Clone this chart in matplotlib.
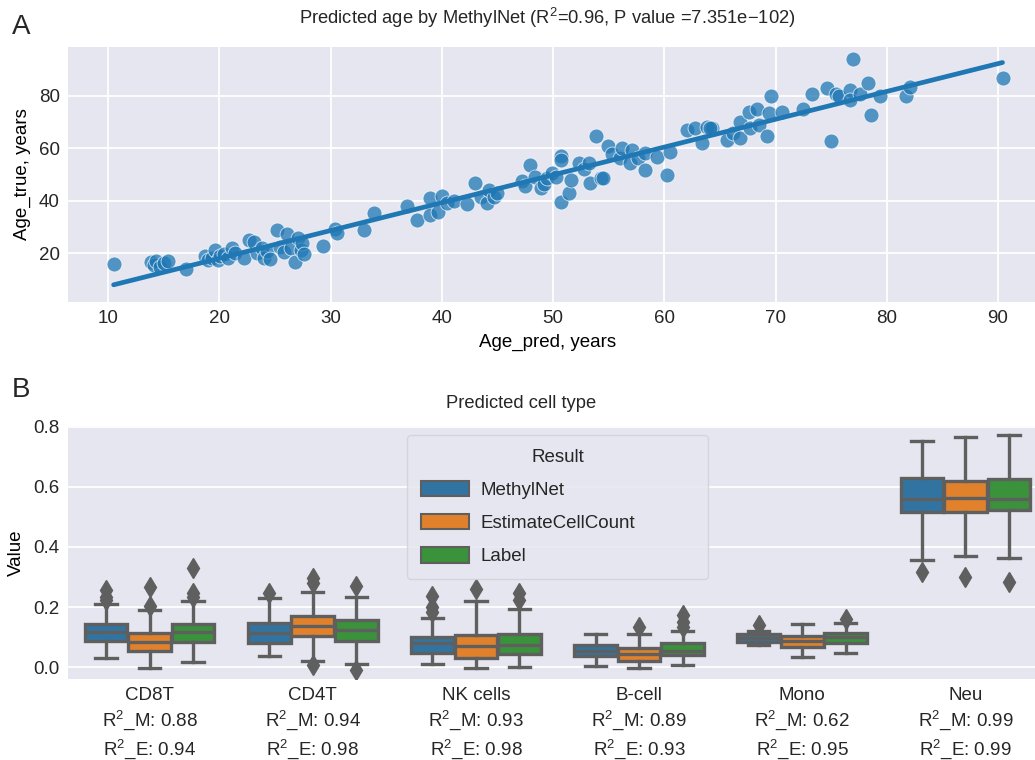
import numpy as np
import matplotlib.pyplot as plt
from matplotlib.patches import Patch

# ---- panel A data: (Age_pred, Age_true)
age_pred = [10.5, 13.9, 14.1, 14.3, 14.7, 15.0, 15.4, 17.0,
            18.7, 19.0, 19.3, 19.6, 19.9, 20.1, 20.4, 20.8, 21.1, 21.4,
            22.2, 22.7, 23.1, 23.4, 23.8, 24.0, 24.3, 24.6, 25.2, 25.5, 25.8,
            26.1, 26.4, 26.8, 27.1, 27.3, 27.4, 27.6,
            29.3, 30.4, 30.6, 33.0, 33.9,
            36.9, 37.8, 38.9, 38.9, 39.7, 40.0, 40.5, 41.1, 42.3, 43.0, 43.5,
            44.1, 44.2, 44.7, 45.0,
            47.2, 47.5, 47.9, 48.4, 48.9, 49.2, 49.5, 49.9, 50.3, 50.7, 50.7,
            50.7, 51.4, 51.6, 52.3, 52.8, 53.2, 53.3, 53.9, 54.3, 54.5, 54.9,
            55.3, 56.0, 56.2, 56.9, 57.1, 57.6, 58.3, 58.3, 59.3, 60.2, 60.5,
            62.0, 62.8, 63.4, 63.8, 64.3, 64.1, 65.6, 66.2, 66.8, 66.8, 67.6,
            67.7, 68.3, 68.5, 69.2, 69.4, 69.6, 70.6, 72.5, 73.3, 74.6, 75.0,
            75.4, 75.7, 76.7, 76.7, 77.0, 77.6, 78.3, 78.6, 79.4, 81.7, 82.1,
            90.4]
age_true = [16.0, 16.6, 15.5, 17.0, 14.9, 16.2, 17.2, 13.9,
            19.0, 17.5, 18.3, 21.2, 17.5, 19.0, 19.7, 18.1, 21.9, 20.0,
            18.1, 25.1, 24.2, 20.2, 22.0, 18.1, 21.0, 17.7, 28.9, 22.5, 20.5,
            27.3, 21.9, 16.8, 25.7, 21.3, 23.8, 19.8,
            22.9, 29.1, 27.8, 28.9, 35.2,
            38.0, 32.7, 40.9, 34.6, 35.8, 41.9, 39.0, 40.0, 38.6, 46.8, 41.5,
            39.0, 44.1, 41.5, 43.0,
            47.6, 45.6, 53.8, 49.1, 44.7, 46.5, 48.5, 50.4, 49.0, 57.0, 55.5,
            39.6, 42.8, 47.9, 54.2, 52.0, 54.2, 46.6, 64.6, 48.5, 48.5, 60.9,
            57.8, 56.1, 59.9, 54.2, 59.3, 56.1, 51.7, 58.0, 56.7, 49.8, 58.6,
            66.9, 67.5, 61.8, 67.9, 67.5, 67.5, 63.1, 65.6, 70.0, 63.7, 73.8,
            67.5, 75.1, 68.8, 64.7, 73.5, 79.8, 73.8, 74.8, 80.8, 83.0, 62.7,
            80.8, 79.9, 82.1, 78.3, 93.8, 80.8, 84.9, 72.8, 79.8, 79.8, 83.1,
            86.8]

# ---- panel B data: box summaries per cell type and method
cell_types = ['CD8T', 'CD4T', 'NK cells', 'B-cell', 'Mono', 'Neu']
r2_m = ['0.88', '0.94', '0.93', '0.89', '0.62', '0.99']
r2_e = ['0.94', '0.98', '0.98', '0.93', '0.95', '0.99']
methods = ['MethylNet', 'EstimateCellCount', 'Label']

# rows: cell type, columns: method
q1 = [[0.087, 0.055, 0.085], [0.082, 0.105, 0.087], [0.049, 0.030, 0.044],
      [0.038, 0.022, 0.041], [0.083, 0.068, 0.080], [0.515, 0.515, 0.523]]
med = [[0.116, 0.085, 0.116], [0.114, 0.137, 0.124], [0.080, 0.072, 0.074],
       [0.055, 0.044, 0.054], [0.097, 0.087, 0.100], [0.558, 0.563, 0.558]]
q3 = [[0.143, 0.113, 0.143], [0.146, 0.171, 0.157], [0.102, 0.107, 0.111],
      [0.074, 0.063, 0.080], [0.110, 0.105, 0.115], [0.630, 0.619, 0.625]]
whis_lo = [[0.032, -0.003, 0.019], [0.037, 0.021, 0.011], [0.010, -0.003, 0.002],
           [0.004, -0.003, 0.007], [0.074, 0.035, 0.049], [0.356, 0.370, 0.362]]
whis_hi = [[0.209, 0.190, 0.221], [0.229, 0.249, 0.235], [0.163, 0.220, 0.193],
           [0.110, 0.110, 0.122], [0.122, 0.143, 0.146], [0.752, 0.766, 0.772]]
outliers = [[[0.257, 0.235, 0.222], [0.266, 0.205], [0.329, 0.246, 0.235]],
            [[0.248], [0.296, 0.279, 0.008], [0.270, -0.009]],
            [[0.237, 0.201, 0.185], [0.259], [0.246, 0.224]],
            [[], [0.135], [0.174, 0.152, 0.135]],
            [[0.140], [], [0.159]],
            [[0.318], [0.301], [0.284]]]

box_colors = ['#3274a1', '#e1812c', '#3a923a']
edge_gray = '#5f5f5f'
bg = '#e5e6ef'
text_color = '#262626'
fs = 13.5

plt.rcParams['font.family'] = ['Liberation Sans', 'DejaVu Sans']
plt.rcParams['mathtext.fontset'] = 'custom'
plt.rcParams['mathtext.rm'] = 'Liberation Sans'
plt.rcParams['text.color'] = text_color

W, H = 1035, 760
fig = plt.figure(figsize=(W / 100, H / 100), dpi=100)


def frame(px_left, px_right, px_top, px_bottom):
    return [px_left / W, 1 - px_bottom / H, (px_right - px_left) / W, (px_bottom - px_top) / H]


def style_axes(ax):
    ax.set_facecolor(bg)
    for s in ax.spines.values():
        s.set_visible(False)
    ax.tick_params(length=0, labelsize=fs, colors=text_color, pad=6)
    ax.grid(color='white', linewidth=1.3)
    ax.set_axisbelow(True)


# ---------- panel A
ax1 = fig.add_axes(frame(68, 1047, 47, 302))
style_axes(ax1)
ax1.scatter(age_pred, age_true, s=115, color='#1f77b4', alpha=0.75,
            edgecolors='white', linewidths=0.6, zorder=3)
slope, icpt = np.polyfit(age_pred, age_true, 1)
xs = np.array([min(age_pred), max(age_pred)])
ax1.plot(xs, slope * xs + icpt, color='#1f77b4', linewidth=3.4,
         solid_capstyle='round', zorder=4)
ax1.set_xlim(6.4, 94.4)
ax1.set_ylim(1.5, 98.5)
ax1.set_xticks([10, 20, 30, 40, 50, 60, 70, 80, 90])
ax1.set_yticks([20, 40, 60, 80])
ax1.set_xlabel('Age_pred, years', fontsize=fs)
ax1.xaxis.set_label_coords((548 - 68) / 979, (302 - 334) / 255)
ax1.set_ylabel('Age_true, years', fontsize=fs)
ax1.yaxis.set_label_coords((31 - 68) / 979, 0.5)
fig.text(547 / W, 1 - 18 / H,
         'Predicted age by MethylNet (R$^2$=0.96, P value =7.351e\u2212102)',
         ha='center', va='center', fontsize=13.2)
fig.text(12 / W, 1 - 27 / H, 'A', fontsize=20, va='center', ha='left')

# ---------- panel B
ax2 = fig.add_axes(frame(68, 1047, 426, 679))
style_axes(ax2)
ax2.grid(axis='x', visible=False)
bw = 0.8 / 3
for i in range(len(cell_types)):
    for j in range(len(methods)):
        stats = [dict(med=med[i][j], q1=q1[i][j], q3=q3[i][j],
                      whislo=whis_lo[i][j], whishi=whis_hi[i][j],
                      fliers=outliers[i][j])]
        ax2.bxp(stats, positions=[i + (j - 1) * bw], widths=bw * 0.98,
                patch_artist=True, manage_ticks=False,
                boxprops=dict(facecolor=box_colors[j], edgecolor=edge_gray, linewidth=2.4),
                medianprops=dict(color=edge_gray, linewidth=2.4),
                whiskerprops=dict(color=edge_gray, linewidth=2.4),
                capprops=dict(color=edge_gray, linewidth=2.4),
                flierprops=dict(marker='d', markersize=10, markerfacecolor=edge_gray,
                                markeredgecolor=edge_gray))
ax2.set_xlim(-0.5, 5.5)
ax2.set_ylim(-0.039, 0.802)
ax2.set_yticks([0.0, 0.2, 0.4, 0.6, 0.8])
ax2.set_xticks(range(len(cell_types)))
ax2.set_xticklabels([f'{c}\nR$^2$_M: {m}\nR$^2$_E: {e}'
                     for c, m, e in zip(cell_types, r2_m, r2_e)],
                    linespacing=1.26)
ax2.tick_params(axis='x', pad=6)
ax2.set_ylabel('Value', fontsize=fs)
ax2.yaxis.set_label_coords((25 - 68) / 979, 0.5)
fig.text(521 / W, 1 - 403 / H, 'Predicted cell type', ha='center', va='center', fontsize=13.2)
fig.text(12 / W, 1 - 390 / H, 'B', fontsize=20, va='center', ha='left')

handles = [Patch(facecolor=c, edgecolor=edge_gray, linewidth=1.5) for c in box_colors]
leg = ax2.legend(handles, methods, title='Result', fontsize=fs, title_fontsize=fs,
                 loc='upper left', mode='expand',
                 bbox_to_anchor=((407 - 68) / 979, (679 - 580) / 253,
                                 (708 - 407) / 979, (580 - 435) / 253),
                 borderaxespad=0, handlelength=2.6, handleheight=0.9, labelspacing=0.8,
                 handletextpad=0.6, frameon=True, facecolor=bg, edgecolor='#d0d0d8',
                 framealpha=0.8, borderpad=0.72)

fig.savefig('out.png', dpi=100)
